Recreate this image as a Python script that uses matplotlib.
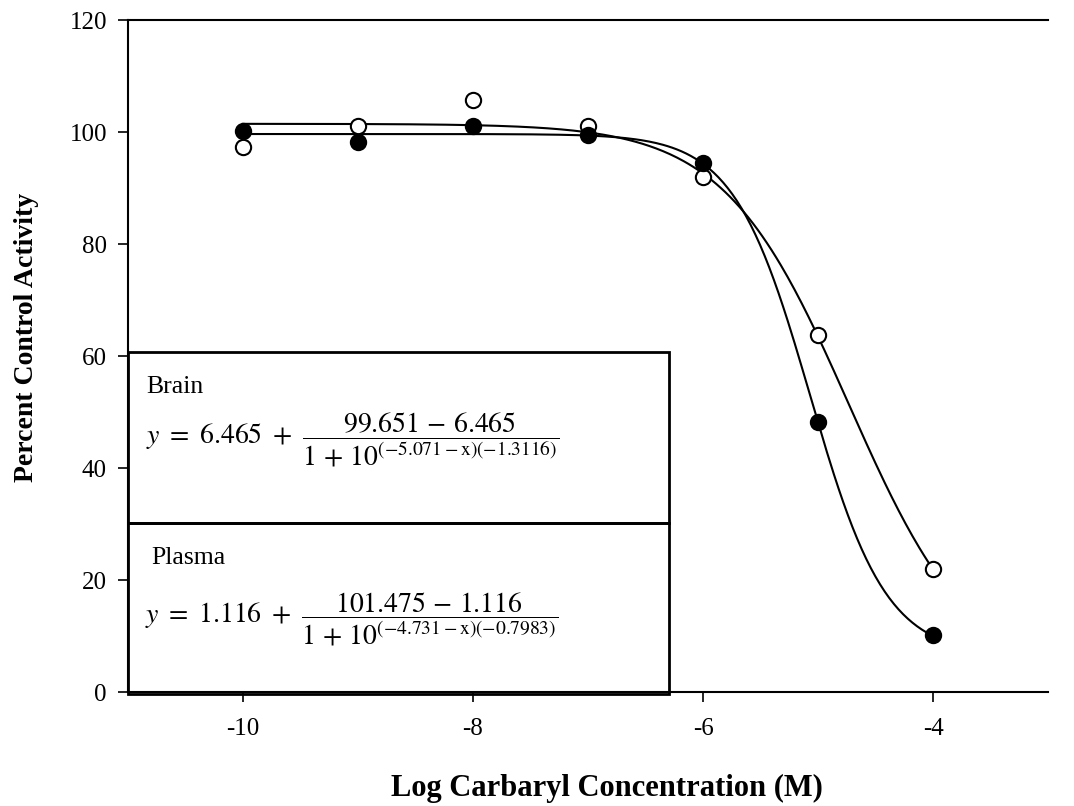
import numpy as np
import matplotlib.pyplot as plt
from matplotlib.patches import Rectangle

plt.rcParams['font.family'] = ['Liberation Serif', 'DejaVu Serif']
plt.rcParams['mathtext.fontset'] = 'stix'

log_conc = [-10, -9, -8, -7, -6, -5, -4]
brain = [100.2, 98.3, 101.0, 99.5, 94.5, 48.3, 10.1]
plasma = [97.3, 101.0, 105.8, 101.1, 92.0, 63.8, 22.0]

# fitted 4-parameter logistic parameters (from the equations on the chart)
brain_fit = dict(bottom=6.465, top=99.651, logec50=-5.071, hill=-1.3116)
plasma_fit = dict(bottom=1.116, top=101.475, logec50=-4.731, hill=-0.7983)


def logistic(x, bottom, top, logec50, hill):
    return bottom + (top - bottom) / (1 + 10 ** ((logec50 - x) * hill))


fig = plt.figure(figsize=(10.74, 8.06), dpi=100)
ax = fig.add_axes([0.119, 0.1414, 0.857, 0.8337])

xs = np.linspace(-10, -4, 300)
ax.plot(xs, logistic(xs, **brain_fit), color='black', lw=1.5, zorder=2)
ax.plot(xs, logistic(xs, **plasma_fit), color='black', lw=1.5, zorder=2)

ax.plot(log_conc, plasma, 'o', ms=11, mfc='white', mec='black', mew=1.5, zorder=3)
ax.plot(log_conc, brain, 'o', ms=11, mfc='black', mec='black', mew=1.5, zorder=4)

# equation boxes
ax.add_patch(Rectangle((-11, 30.2), 4.7, 30.5, fill=False, ec='black', lw=2, zorder=5, clip_on=False))
ax.add_patch(Rectangle((-11, -0.4), 4.7, 30.6, fill=False, ec='black', lw=2, zorder=5, clip_on=False))

ax.text(-10.84, 54.5, 'Brain', fontsize=18.5, va='center', ha='left')
ax.text(-10.84, 45.0,
        r'$y\ =\ 6.465\ +\ \dfrac{99.651\,-\,6.465}{1\,+\,10^{(-5.071 - \mathrm{x})(-1.3116)}}$',
        fontsize=20, va='center', ha='left')
ax.text(-10.80, 23.9, 'Plasma', fontsize=18.5, va='center', ha='left')
ax.text(-10.85, 12.9,
        r'$y\ =\ 1.116\ +\ \dfrac{101.475\,-\,1.116}{1\,+\,10^{(-4.731 - \mathrm{x})(-0.7983)}}$',
        fontsize=20, va='center', ha='left')

ax.set_xlim(-11, -3)
ax.set_ylim(0, 120)
ax.set_xticks([-10, -8, -6, -4])
ax.set_xticklabels(['-10', '-8', '-6', '-4'])
ax.set_yticks([0, 20, 40, 60, 80, 100, 120])
ax.tick_params(direction='out', length=7, width=1.2, labelsize=18)
ax.tick_params(axis='x', pad=12)
ax.tick_params(axis='y', pad=8)
ax.spines['right'].set_visible(False)
for s in ['left', 'bottom', 'top']:
    ax.spines[s].set_linewidth(1.5)

ax.set_xlabel('Log Carbaryl Concentration (M)', fontsize=22, fontweight='bold', va='center')
ax.set_ylabel('Percent Control Activity', fontsize=20, fontweight='bold', va='center')
ax.xaxis.set_label_coords(0.521, -0.144)
ax.yaxis.set_label_coords(-0.110, 0.527)

fig.savefig('out.png', dpi=100)
